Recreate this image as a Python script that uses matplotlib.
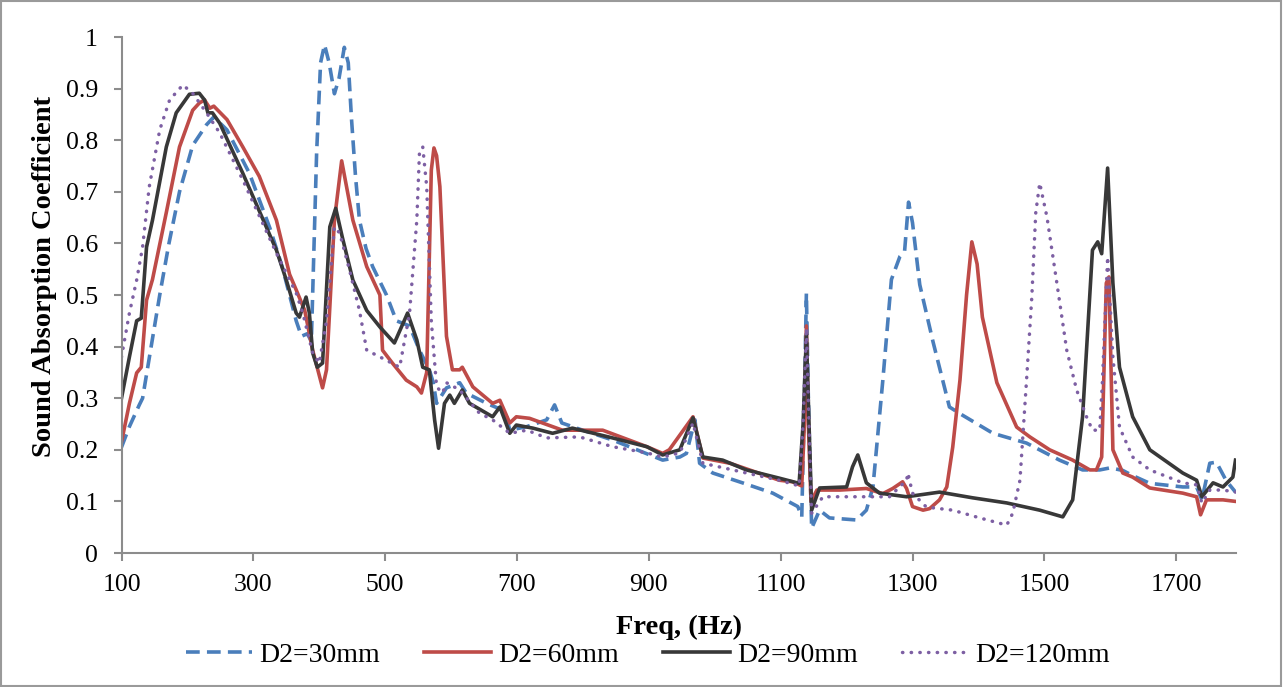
import matplotlib
matplotlib.use("Agg")
import matplotlib.pyplot as plt
from matplotlib.patches import Rectangle

# ---------------- data (frequency Hz, absorption coefficient) ----------------
d30 = [(100, 0.205), (112, 0.245), (127, 0.287), (132, 0.30), (145, 0.40), (158, 0.50),
       (172, 0.60), (188, 0.70), (208, 0.79), (229, 0.83), (240, 0.845), (260, 0.82),
       (294, 0.736), (325, 0.63), (344, 0.554), (365, 0.45), (373, 0.42), (382, 0.425),
       (388, 0.41), (396, 0.775), (402, 0.95), (408, 0.985), (415, 0.95), (423, 0.89),
       (430, 0.92), (438, 0.98), (444, 0.95), (449, 0.84), (455, 0.73), (461, 0.645),
       (471, 0.59), (481, 0.555), (502, 0.50), (517, 0.45), (537, 0.44), (552, 0.393),
       (567, 0.355), (573, 0.33), (578, 0.29), (593, 0.32), (613, 0.33), (623, 0.31),
       (654, 0.29), (678, 0.277), (683, 0.27), (689, 0.238), (715, 0.245), (745, 0.258),
       (757, 0.287), (768, 0.252), (795, 0.24), (845, 0.219), (921, 0.18), (947, 0.186),
       (957, 0.193), (970, 0.258), (977, 0.174), (997, 0.155), (1042, 0.136), (1088, 0.116),
       (1126, 0.09), (1132, 0.07), (1136, 0.30), (1139, 0.503), (1142, 0.30), (1147, 0.048),
       (1159, 0.083), (1174, 0.068), (1215, 0.064), (1230, 0.083), (1240, 0.128),
       (1255, 0.335), (1268, 0.53), (1281, 0.575), (1288, 0.585), (1294, 0.68), (1300, 0.64),
       (1311, 0.52), (1331, 0.41), (1356, 0.283), (1372, 0.27), (1422, 0.232), (1473, 0.213),
       (1523, 0.18), (1558, 0.161), (1584, 0.161), (1600, 0.165), (1619, 0.16), (1634, 0.15),
       (1660, 0.135), (1710, 0.128), (1731, 0.128), (1739, 0.103), (1751, 0.174),
       (1761, 0.176), (1776, 0.14), (1790, 0.118)]

d60 = [(100, 0.215), (112, 0.29), (123, 0.349), (130, 0.36), (138, 0.49), (147, 0.53),
       (168, 0.66), (188, 0.787), (208, 0.858), (218, 0.872), (226, 0.878), (234, 0.862),
       (240, 0.866), (260, 0.84), (284, 0.787), (309, 0.73), (335, 0.645), (355, 0.54),
       (365, 0.51), (378, 0.47), (390, 0.393), (405, 0.32), (411, 0.355), (423, 0.645),
       (434, 0.76), (451, 0.645), (472, 0.555), (492, 0.50), (496, 0.393), (511, 0.368),
       (532, 0.335), (548, 0.322), (555, 0.31), (563, 0.35), (570, 0.742), (574, 0.785),
       (578, 0.77), (583, 0.71), (593, 0.42), (602, 0.355), (613, 0.355), (617, 0.36),
       (633, 0.322), (663, 0.29), (674, 0.296), (689, 0.252), (699, 0.264), (719, 0.261),
       (769, 0.238), (830, 0.238), (897, 0.206), (921, 0.193), (931, 0.20), (967, 0.264),
       (982, 0.184), (1023, 0.174), (1098, 0.141), (1118, 0.138), (1132, 0.13), (1136, 0.25),
       (1139, 0.44), (1142, 0.25), (1146, 0.10), (1155, 0.122), (1190, 0.122), (1230, 0.125),
       (1255, 0.115), (1270, 0.125), (1285, 0.138), (1291, 0.125), (1300, 0.09), (1316, 0.083),
       (1326, 0.086), (1341, 0.103), (1352, 0.128), (1361, 0.205), (1372, 0.335), (1382, 0.50),
       (1390, 0.603), (1398, 0.56), (1406, 0.457), (1428, 0.33), (1458, 0.244), (1478, 0.225),
       (1508, 0.20), (1543, 0.18), (1569, 0.161), (1579, 0.161), (1587, 0.186), (1594, 0.523),
       (1598, 0.535), (1604, 0.20), (1619, 0.155), (1634, 0.147), (1660, 0.126), (1710, 0.116),
       (1731, 0.109), (1737, 0.074), (1746, 0.103), (1771, 0.103), (1790, 0.10)]

d90 = [(100, 0.30), (112, 0.38), (123, 0.45), (130, 0.455), (138, 0.593), (147, 0.645),
       (168, 0.787), (183, 0.853), (203, 0.889), (218, 0.891), (226, 0.878), (231, 0.853),
       (238, 0.853), (249, 0.833), (284, 0.736), (335, 0.587), (350, 0.529), (365, 0.465),
       (370, 0.457), (380, 0.496), (385, 0.465), (390, 0.388), (397, 0.36), (405, 0.368),
       (416, 0.632), (425, 0.668), (435, 0.612), (451, 0.529), (472, 0.47), (492, 0.438),
       (514, 0.407), (534, 0.465), (548, 0.413), (557, 0.36), (567, 0.355), (575, 0.258),
       (581, 0.203), (590, 0.29), (598, 0.306), (605, 0.29), (617, 0.316), (628, 0.29),
       (663, 0.264), (674, 0.283), (689, 0.232), (699, 0.248), (724, 0.242), (754, 0.232),
       (784, 0.242), (845, 0.223), (897, 0.206), (921, 0.19), (947, 0.20), (967, 0.262),
       (982, 0.186), (1012, 0.18), (1048, 0.161), (1098, 0.145), (1128, 0.135), (1134, 0.25),
       (1139, 0.423), (1143, 0.25), (1147, 0.083), (1159, 0.126), (1200, 0.128), (1209, 0.167),
       (1217, 0.19), (1230, 0.136), (1250, 0.116), (1291, 0.109), (1341, 0.118), (1391, 0.107),
       (1443, 0.097), (1493, 0.083), (1528, 0.07), (1543, 0.103), (1558, 0.264), (1573, 0.587),
       (1581, 0.603), (1587, 0.58), (1596, 0.746), (1604, 0.523), (1614, 0.36), (1634, 0.264),
       (1660, 0.20), (1710, 0.155), (1731, 0.141), (1739, 0.109), (1756, 0.136), (1771, 0.128),
       (1786, 0.147), (1790, 0.18)]

d120 = [(100, 0.38), (112, 0.465), (123, 0.529), (132, 0.593), (142, 0.709), (158, 0.82),
        (173, 0.878), (193, 0.907), (208, 0.891), (229, 0.853), (249, 0.814), (284, 0.723),
        (335, 0.581), (365, 0.504), (375, 0.465), (390, 0.388), (400, 0.368), (411, 0.45),
        (423, 0.632), (431, 0.62), (446, 0.548), (461, 0.47), (472, 0.393), (492, 0.38),
        (522, 0.36), (537, 0.465), (548, 0.645), (552, 0.775), (557, 0.787), (563, 0.71),
        (570, 0.45), (578, 0.322), (587, 0.31), (593, 0.33), (613, 0.316), (643, 0.271),
        (663, 0.258), (689, 0.232), (715, 0.238), (745, 0.223), (795, 0.225), (845, 0.206),
        (897, 0.194), (921, 0.186), (947, 0.194), (967, 0.252), (982, 0.174), (1048, 0.155),
        (1098, 0.141), (1128, 0.13), (1134, 0.25), (1139, 0.436), (1143, 0.25), (1147, 0.077),
        (1164, 0.109), (1215, 0.109), (1265, 0.109), (1291, 0.141), (1293, 0.155), (1300, 0.116),
        (1321, 0.089), (1361, 0.083), (1402, 0.068), (1443, 0.054), (1452, 0.077), (1463, 0.141),
        (1473, 0.335), (1481, 0.496), (1487, 0.66), (1493, 0.717), (1504, 0.651), (1519, 0.523),
        (1534, 0.393), (1549, 0.316), (1564, 0.264), (1573, 0.238), (1584, 0.238), (1588, 0.329),
        (1596, 0.574), (1604, 0.38), (1614, 0.244), (1634, 0.186), (1660, 0.161), (1710, 0.136),
        (1731, 0.132), (1739, 0.097), (1751, 0.122), (1771, 0.122), (1790, 0.118)]

series_labels = ["D2=30mm", "D2=60mm", "D2=90mm", "D2=120mm"]
x_ticks = [100, 300, 500, 700, 900, 1100, 1300, 1500, 1700]
y_ticks = [0, 0.1, 0.2, 0.3, 0.4, 0.5, 0.6, 0.7, 0.8, 0.9, 1.0]
y_tick_labels = ["0", "0.1", "0.2", "0.3", "0.4", "0.5", "0.6", "0.7", "0.8", "0.9", "1"]

# ---------------- figure ----------------
plt.rcParams['font.family'] = ['Liberation Serif', 'DejaVu Serif']
W, H = 1284, 687
fig = plt.figure(figsize=(W / 100, H / 100), dpi=100)
ax = fig.add_axes([121.5 / W, 1 - 553 / H, (1235.5 - 121.5) / W, (553 - 37) / H])

styles = [
    dict(color='#4a7ebb', lw=2.6, linestyle=(0, (3.8, 2.0))),
    dict(color='#be4b48', lw=2.6, linestyle='-'),
    dict(color='#383838', lw=2.6, linestyle='-'),
    dict(color='#7d5fa3', lw=2.5, linestyle=(0, (0.1, 2.4)), dash_capstyle='round'),
]
for data, lab, st in zip([d30, d60, d90, d120], series_labels, styles):
    xs = [p[0] for p in data]
    ys = [p[1] for p in data]
    ax.plot(xs, ys, label=lab, solid_joinstyle='round', **st)

ax.set_xlim(100, 1790)
ax.set_ylim(0, 1.0)
ax.set_xticks(x_ticks)
ax.set_yticks(y_ticks)
ax.set_yticklabels(y_tick_labels)
for s in ['top', 'right']:
    ax.spines[s].set_visible(False)
for s in ['left', 'bottom']:
    ax.spines[s].set_color('#8c8c8c')
    ax.spines[s].set_linewidth(1.5)
ax.tick_params(axis='both', direction='out', color='#8c8c8c', width=1.5, length=6,
               labelsize=18.5)
ax.tick_params(axis='y', pad=11)
ax.tick_params(axis='x', pad=9)

ax.set_xlabel("Freq, (Hz)", fontsize=20.5, fontweight='bold', labelpad=14)
fig.text(45 / W, 1 - 276 / H, "Sound Absorption Coefficient", rotation=90,
         ha='center', va='center', fontsize=20.5, fontweight='bold')

fig.legend(loc='center', bbox_to_anchor=(648 / W, 1 - 655 / H), ncol=4, frameon=False,
           fontsize=20, handlelength=2.4, handletextpad=0.25, columnspacing=1.6)

fig.patches.append(Rectangle((0.001, 0.002), 0.997, 0.996, transform=fig.transFigure,
                             fill=False, edgecolor='#9a9a9a', linewidth=1.5))

fig.savefig("out.png", dpi=100)
